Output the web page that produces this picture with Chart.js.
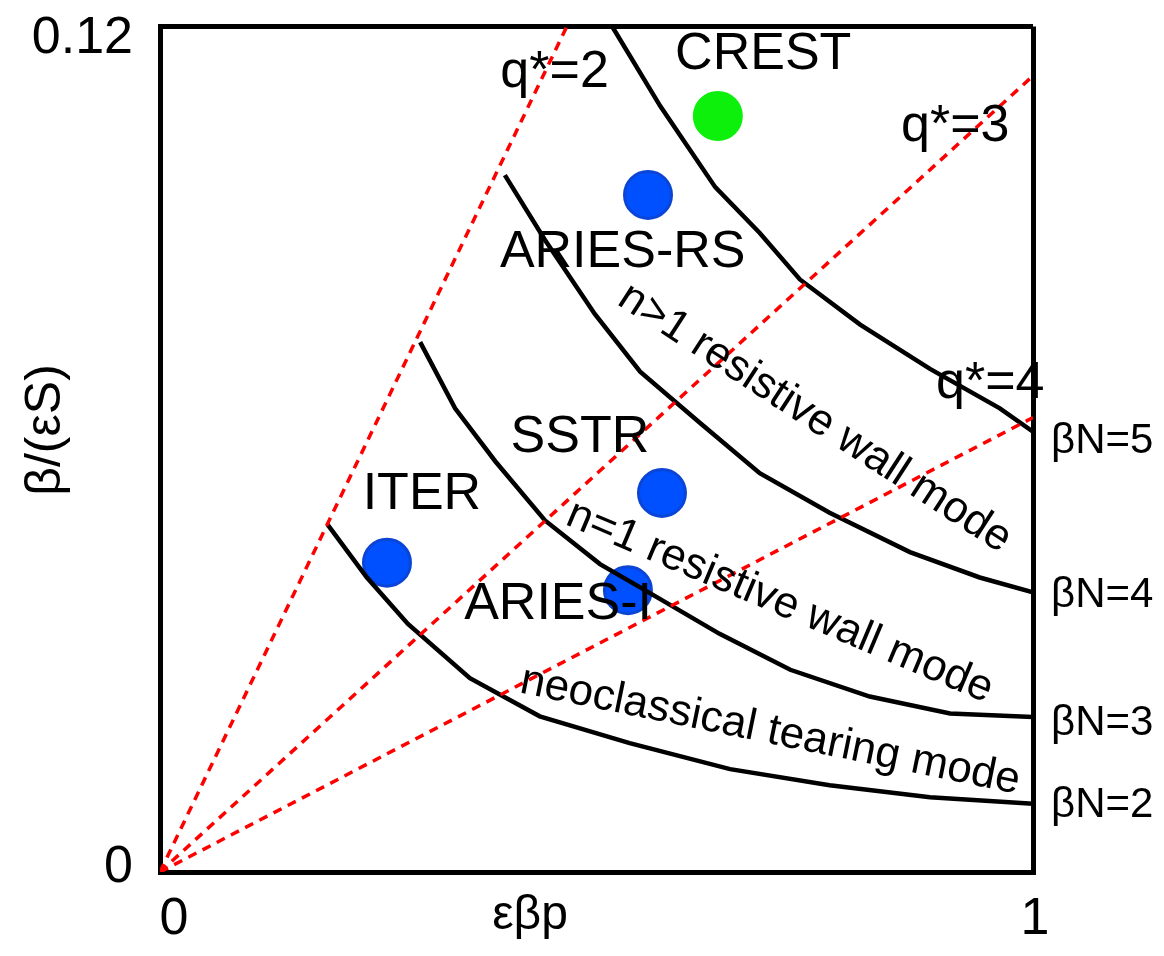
<!DOCTYPE html>
<html>
<head>
<meta charset="utf-8">
<script src="https://cdn.jsdelivr.net/npm/chart.js@4"></script>
<style>
  body { margin: 0; background: #fff; }
  #wrap { width: 1164px; height: 956px; position: relative; }
</style>
</head>
<body>
<div id="wrap"><canvas id="myChart"></canvas></div>
<script>
// beta_N limit curves (x = eps*beta_p, y = beta/(eps S))
const bn2X = [0.192, 0.237, 0.284, 0.355, 0.435, 0.538, 0.653, 0.767, 0.882, 1.0]
const bn2Y = [0.0493, 0.0418, 0.0352, 0.0275, 0.0221, 0.0183, 0.0146, 0.0123, 0.0106, 0.0097]
const bn3X = [0.298, 0.338, 0.384, 0.441, 0.504, 0.550, 0.641, 0.722, 0.813, 0.905, 1.0]
const bn3Y = [0.0752, 0.0658, 0.0583, 0.0499, 0.0437, 0.0404, 0.0338, 0.0287, 0.0249, 0.0225, 0.0220]
const bn4X = [0.395, 0.441, 0.498, 0.550, 0.619, 0.687, 0.767, 0.859, 0.939, 1.0]
const bn4Y = [0.0989, 0.0897, 0.0792, 0.0710, 0.0637, 0.0566, 0.0510, 0.0454, 0.0418, 0.0397]
const bn5X = [0.518, 0.573, 0.636, 0.687, 0.733, 0.802, 0.882, 0.962, 1.0]
const bn5Y = [0.1200, 0.1087, 0.0972, 0.0907, 0.0841, 0.0777, 0.0714, 0.0658, 0.0625]
const bnNames = ['βN=2', 'βN=3', 'βN=4', 'βN=5']

// q* lines from the origin
const qNames = ['q*=2', 'q*=3', 'q*=4']
const qEndX = [0.466, 1.0, 1.0]
const qEndY = [0.12, 0.113, 0.0645]

// reactor design points
const machines = ['CREST', 'ARIES-RS', 'SSTR', 'ITER', 'ARIES-I']
const machX = [0.639, 0.559, 0.575, 0.260, 0.536]
const machY = [0.1073, 0.0961, 0.0538, 0.0439, 0.0400]

const modeNames = ['n>1 resistive wall mode', 'n=1 resistive wall mode', 'neoclassical tearing mode']

const xTicks = [0, 1]
const yTicks = [0, 0.12]
const xTitle = 'εβp'
const yTitle = 'β/(εS)'

const FONT = "'Liberation Sans', Arial, Helvetica, sans-serif"

// where the annotations sit (data coordinates)
const machLabelPos = [[0.691, 0.1160], [0.530, 0.0879], [0.481, 0.0616], [0.300, 0.0536], [0.456, 0.0379]]
const qLabelPos = [[0.452, 0.1135], [0.911, 0.1058], [0.951, 0.0693]]
const modeLabelPos = [[0.750, 0.0644, 33], [0.710, 0.0383, 23], [0.699, 0.0200, 11.5]]
const bnLabelY = [0.0094, 0.0211, 0.0393, 0.0611]

function pts(xs, ys) {
  return xs.map(function (x, i) { return { x: x, y: ys[i] } })
}

var datasets = []
qEndX.forEach(function (x, i) {
  datasets.push({
    label: qNames[i],
    data: [{ x: 0, y: 0 }, { x: x, y: qEndY[i] }],
    showLine: true,
    borderColor: '#ff0000',
    borderWidth: 3.5,
    borderDash: [9, 7],
    pointRadius: 0
  })
})
;[[bn2X, bn2Y], [bn3X, bn3Y], [bn4X, bn4Y], [bn5X, bn5Y]].forEach(function (c, i) {
  datasets.push({
    label: bnNames[i],
    data: pts(c[0], c[1]),
    showLine: true,
    borderColor: '#000',
    borderWidth: 4.5,
    lineTension: 0,
    pointRadius: 0
  })
})
datasets.push({
  label: 'machines',
  data: pts(machX, machY),
  showLine: false,
  pointRadius: 23.5,
  pointBorderWidth: 3,
  pointBackgroundColor: machines.map(function (m) { return m === 'CREST' ? '#0cf00c' : '#0050ff' }),
  pointBorderColor: machines.map(function (m) { return m === 'CREST' ? '#0cf00c' : '#0a45d6' })
})

const textPlugin = {
  id: 'texts',
  afterDraw: function (chart) {
    var c = chart.ctx
    var xs = chart.scales.x, ys = chart.scales.y
    function px(v) { return xs.getPixelForValue(v) }
    function py(v) { return ys.getPixelForValue(v) }
    c.save()
    c.fillStyle = '#000'
    c.textAlign = 'center'
    c.textBaseline = 'middle'

    c.font = '52px ' + FONT
    machines.forEach(function (m, i) {
      c.fillText(m, px(machLabelPos[i][0]), py(machLabelPos[i][1]))
    })
    qNames.forEach(function (q, i) {
      c.fillText(q, px(qLabelPos[i][0]), py(qLabelPos[i][1]))
    })

    c.font = '44px ' + FONT
    modeNames.forEach(function (m, i) {
      var p = modeLabelPos[i]
      c.save()
      c.translate(px(p[0]), py(p[1]))
      c.rotate(p[2] * Math.PI / 180)
      c.fillText(m, 0, 0)
      c.restore()
    })

    c.font = '42px ' + FONT
    c.textAlign = 'left'
    bnNames.forEach(function (b, i) {
      c.fillText(b, xs.right + 18, py(bnLabelY[i]))
    })

    // tick labels
    c.font = '52px ' + FONT
    c.textAlign = 'right'
    yTicks.forEach(function (v) {
      c.fillText(v === 0 ? '0' : String(v), xs.left - 27, py(v) + (v === 0 ? -4 : 12))
    })
    c.textAlign = 'center'
    xTicks.forEach(function (v) {
      c.fillText(String(v), px(v) + (v === 0 ? 14 : 2), ys.bottom + 48)
    })

    // axis titles
    c.font = '48px ' + FONT
    c.fillText(xTitle, 530, ys.bottom + 44)
    c.save()
    c.font = '50px ' + FONT
    c.translate(46, 430)
    c.rotate(-Math.PI / 2)
    c.fillText(yTitle, 0, 0)
    c.restore()
    c.restore()
  }
}

var ctx = document.getElementById('myChart')
var chart = new Chart(ctx, {
  type: 'scatter',
  data: { datasets: datasets },
  options: {
    responsive: true,
    maintainAspectRatio: false,
    animation: false,
    layout: { padding: { left: 0, right: 131, top: 20, bottom: 0 } },
    plugins: { legend: { display: false }, tooltip: { enabled: false } },
    scales: {
      x: {
        type: 'linear', min: 0, max: 1,
        afterBuildTicks: function (s) { s.ticks = xTicks.map(function (v) { return { value: v } }) },
        afterFit: function (s) { s.height = 84 },
        ticks: { display: false },
        grid: { color: '#000', lineWidth: 5, drawTicks: false },
        border: { display: true, color: '#000', width: 5 }
      },
      y: {
        type: 'linear', min: 0, max: 0.12,
        afterBuildTicks: function (s) { s.ticks = yTicks.map(function (v) { return { value: v } }) },
        afterFit: function (s) { s.width = 160 },
        ticks: { display: false },
        grid: { color: '#000', lineWidth: 5, drawTicks: false },
        border: { display: true, color: '#000', width: 5 }
      }
    }
  },
  plugins: [textPlugin]
})
</script>
</body>
</html>
